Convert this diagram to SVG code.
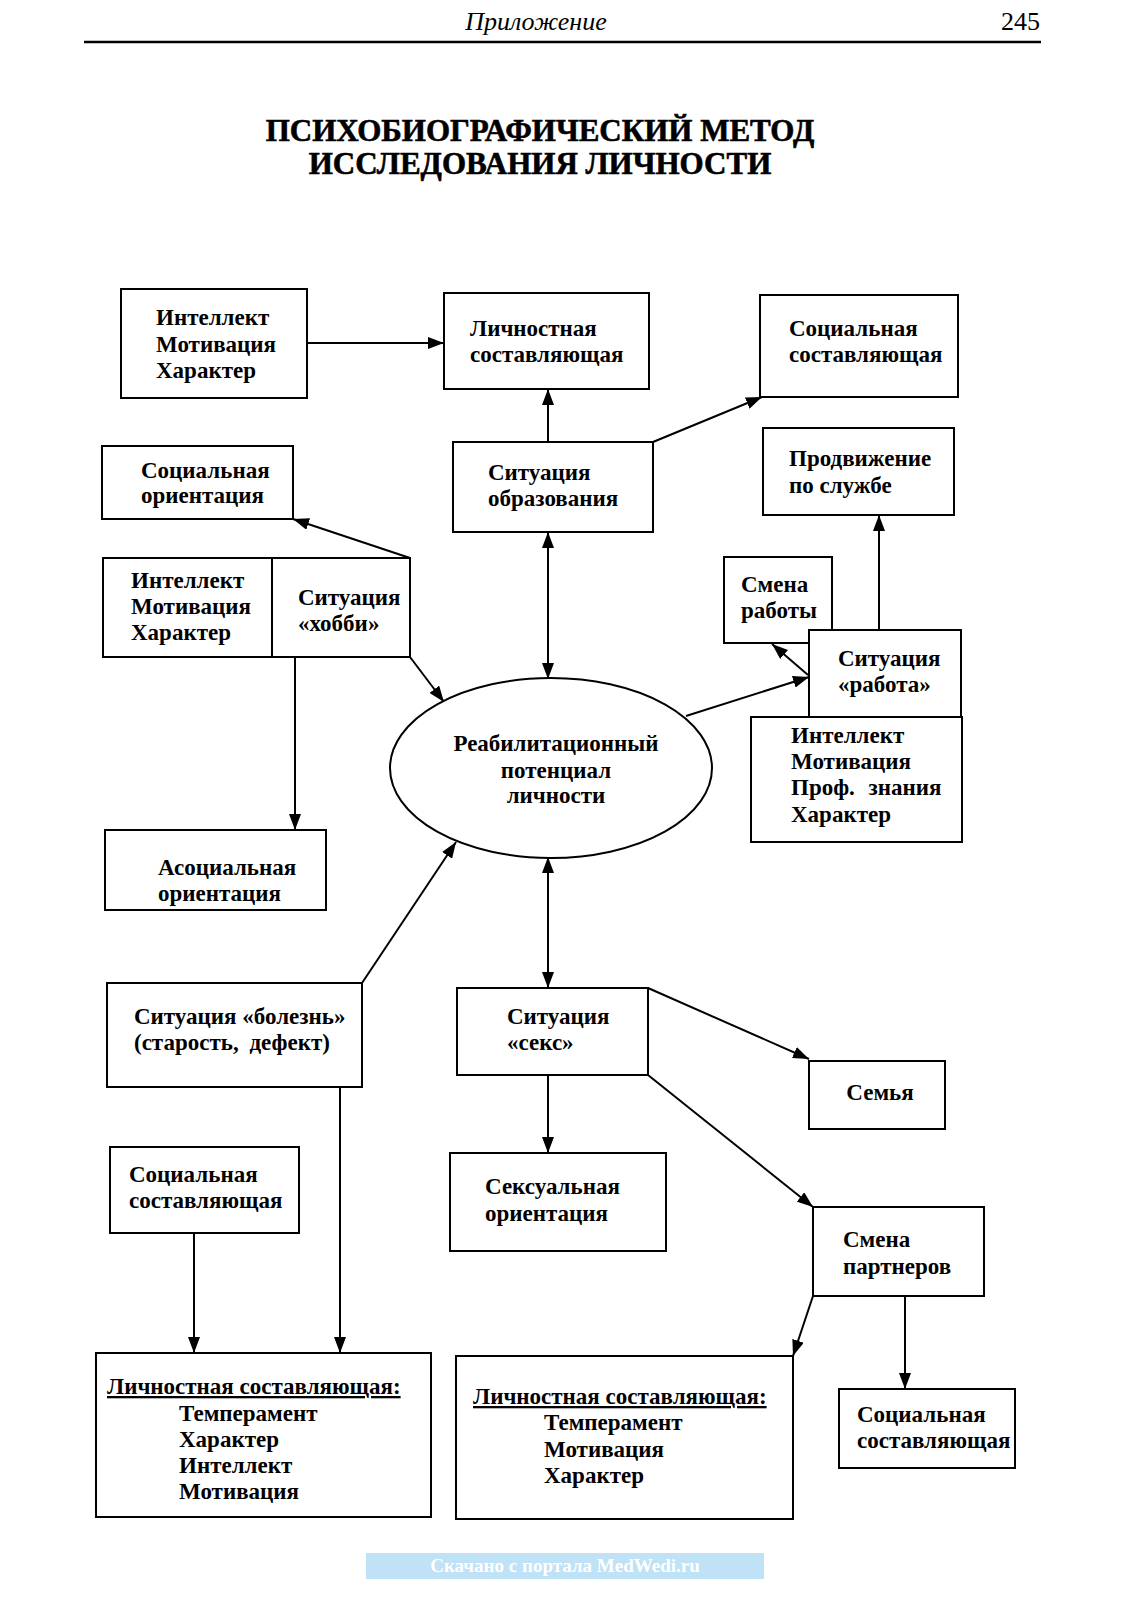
<svg xmlns="http://www.w3.org/2000/svg" width="1131" height="1600" viewBox="0 0 1131 1600">
<defs>
<marker id="ah" viewBox="0 0 16 12" refX="16" refY="6" markerWidth="16" markerHeight="12" markerUnits="userSpaceOnUse" orient="auto-start-reverse">
<path d="M0,0 L16,6 L0,12 Z" fill="#000"/>
</marker>
<style>
.b{fill:#fff;stroke:#000;stroke-width:2}
.t{font-family:"Liberation Serif",serif;font-size:23px;font-weight:bold;fill:#000}
.c{stroke:#000;stroke-width:2;fill:none}
.e{font-family:"Liberation Serif",serif;font-size:23px;font-weight:bold;fill:#000;text-anchor:middle}
</style>
</defs>
<rect width="1131" height="1600" fill="#fff"/>
<g id="header">
<text x="536" y="30" text-anchor="middle" font-family="Liberation Serif,serif" font-style="italic" font-size="26">Приложение</text>
<text x="1040" y="30" text-anchor="end" font-family="Liberation Serif,serif" font-size="26">245</text>
<line x1="84" y1="42" x2="1041" y2="42" stroke="#000" stroke-width="2.5"/>
</g>
<g id="title" font-family="Liberation Serif,serif" font-weight="bold" font-size="31" text-anchor="middle" stroke="#000" stroke-width="0.6">
<text x="540" y="141">ПСИХОБИОГРАФИЧЕСКИЙ МЕТОД</text>
<text x="540" y="174">ИССЛЕДОВАНИЯ ЛИЧНОСТИ</text>
</g>
<g id="connectors">
<line class="c" x1="307" y1="343" x2="444" y2="343" marker-end="url(#ah)"/>
<line class="c" x1="548" y1="442" x2="548" y2="389" marker-end="url(#ah)"/>
<line class="c" x1="653" y1="442" x2="762" y2="397" marker-end="url(#ah)"/>
<line class="c" x1="548" y1="532" x2="548" y2="679" marker-start="url(#ah)" marker-end="url(#ah)"/>
<line class="c" x1="410" y1="558" x2="293" y2="519" marker-end="url(#ah)"/>
<line class="c" x1="410" y1="657" x2="444" y2="702" marker-end="url(#ah)"/>
<line class="c" x1="295" y1="657" x2="295" y2="830" marker-end="url(#ah)"/>
<line class="c" x1="686" y1="716" x2="809" y2="677" marker-end="url(#ah)"/>
<line class="c" x1="808" y1="675" x2="772" y2="644" marker-end="url(#ah)"/>
<line class="c" x1="879" y1="630" x2="879" y2="515" marker-end="url(#ah)"/>
<line class="c" x1="362" y1="983" x2="456" y2="842" marker-end="url(#ah)"/>
<line class="c" x1="548" y1="857" x2="548" y2="988" marker-start="url(#ah)" marker-end="url(#ah)"/>
<line class="c" x1="648" y1="988" x2="809" y2="1059" marker-end="url(#ah)"/>
<line class="c" x1="648" y1="1075" x2="813" y2="1207" marker-end="url(#ah)"/>
<line class="c" x1="548" y1="1075" x2="548" y2="1153" marker-end="url(#ah)"/>
<line class="c" x1="340" y1="1087" x2="340" y2="1353" marker-end="url(#ah)"/>
<line class="c" x1="194" y1="1233" x2="194" y2="1353" marker-end="url(#ah)"/>
<line class="c" x1="813" y1="1296" x2="793" y2="1356" marker-end="url(#ah)"/>
<line class="c" x1="905" y1="1296" x2="905" y2="1389" marker-end="url(#ah)"/>
</g>
<g id="n_imh_top"><rect class="b" x="121" y="289" width="186" height="109"/>
<text class="t" x="156" y="325">Интеллект</text><text class="t" x="156" y="352">Мотивация</text><text class="t" x="156" y="378">Характер</text></g>
<g id="n_lichn_top"><rect class="b" x="444" y="293" width="205" height="96"/>
<text class="t" x="470" y="336">Личностная</text><text class="t" x="470" y="362">составляющая</text></g>
<g id="n_soc_top"><rect class="b" x="760" y="295" width="198" height="102"/>
<text class="t" x="789" y="336">Социальная</text><text class="t" x="789" y="362">составляющая</text></g>
<g id="n_obraz"><rect class="b" x="453" y="442" width="200" height="90"/>
<text class="t" x="488" y="480">Ситуация</text><text class="t" x="488" y="506">образования</text></g>
<g id="n_soc_or"><rect class="b" x="102" y="446" width="191" height="73"/>
<text class="t" x="141" y="478">Социальная</text><text class="t" x="141" y="503">ориентация</text></g>
<g id="n_prodv"><rect class="b" x="763" y="428" width="191" height="87"/>
<text class="t" x="789" y="466">Продвижение</text><text class="t" x="789" y="493">по службе</text></g>
<g id="n_hobby"><rect class="b" x="103" y="558" width="307" height="99"/>
<line class="c" x1="272" y1="558" x2="272" y2="657"/>
<text class="t" x="131" y="588">Интеллект</text><text class="t" x="131" y="614">Мотивация</text><text class="t" x="131" y="640">Характер</text>
<text class="t" x="298" y="605">Ситуация</text><text class="t" x="298" y="631">«хобби»</text></g>
<g id="n_smena_rab"><rect class="b" x="724" y="557" width="108" height="86"/>
<text class="t" x="741" y="592">Смена</text><text class="t" x="741" y="618">работы</text></g>
<g id="n_imz"><rect class="b" x="751" y="717" width="211" height="125"/>
<text class="t" x="791" y="743">Интеллект</text><text class="t" x="791" y="769">Мотивация</text><text class="t" x="791" y="795" word-spacing="8">Проф. знания</text><text class="t" x="791" y="822">Характер</text></g>
<g id="n_rabota"><rect class="b" x="809" y="630" width="152" height="87"/>
<text class="t" x="838" y="666">Ситуация</text><text class="t" x="838" y="692">«работа»</text></g>
<g id="n_center"><ellipse class="b" cx="551" cy="768" rx="161" ry="90"/>
<text class="e" x="556" y="751">Реабилитационный</text><text class="e" x="556" y="778">потенциал</text><text class="e" x="556" y="803">личности</text></g>
<g id="n_asoc"><rect class="b" x="105" y="830" width="221" height="80"/>
<text class="t" x="158" y="875">Асоциальная</text><text class="t" x="158" y="901">ориентация</text></g>
<g id="n_bolezn"><rect class="b" x="107" y="983" width="255" height="104"/>
<text class="t" x="134" y="1024">Ситуация «болезнь»</text><text class="t" x="134" y="1050" word-spacing="5">(старость, дефект)</text></g>
<g id="n_seks"><rect class="b" x="457" y="988" width="191" height="87"/>
<text class="t" x="507" y="1024">Ситуация</text><text class="t" x="507" y="1050">«секс»</text></g>
<g id="n_semya"><rect class="b" x="809" y="1061" width="136" height="68"/>
<text class="e" x="880" y="1100">Семья</text></g>
<g id="n_soc_bl"><rect class="b" x="110" y="1147" width="189" height="86"/>
<text class="t" x="129" y="1182">Социальная</text><text class="t" x="129" y="1208">составляющая</text></g>
<g id="n_seks_or"><rect class="b" x="450" y="1153" width="216" height="98"/>
<text class="t" x="485" y="1194">Сексуальная</text><text class="t" x="485" y="1221">ориентация</text></g>
<g id="n_smena_part"><rect class="b" x="813" y="1207" width="171" height="89"/>
<text class="t" x="843" y="1247">Смена</text><text class="t" x="843" y="1274">партнеров</text></g>
<g id="n_lichn_bl"><rect class="b" x="96" y="1353" width="335" height="164"/>
<text class="t" x="107" y="1394" text-decoration="underline">Личностная составляющая:</text>
<text class="t" x="179" y="1421">Темперамент</text><text class="t" x="179" y="1447">Характер</text><text class="t" x="179" y="1473">Интеллект</text><text class="t" x="179" y="1499">Мотивация</text></g>
<g id="n_lichn_br"><rect class="b" x="456" y="1356" width="337" height="163"/>
<text class="t" x="473" y="1404" text-decoration="underline">Личностная составляющая:</text>
<text class="t" x="544" y="1430">Темперамент</text><text class="t" x="544" y="1457">Мотивация</text><text class="t" x="544" y="1483">Характер</text></g>
<g id="n_soc_br"><rect class="b" x="839" y="1389" width="176" height="79"/>
<text class="t" x="857" y="1422">Социальная</text><text class="t" x="857" y="1448">составляющая</text></g>
<g id="watermark"><rect x="366" y="1553" width="398" height="26" fill="#bfe2f6"/>
<text x="565" y="1572" text-anchor="middle" font-family="Liberation Serif,serif" font-weight="bold" font-size="19" fill="#fff">Скачано с портала MedWedi.ru</text></g>
</svg>
